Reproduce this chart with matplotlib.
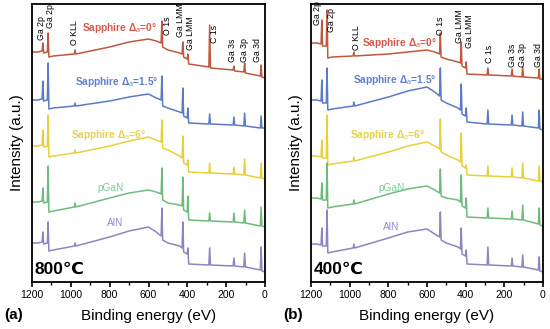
import numpy as np
import matplotlib
matplotlib.use('Agg')
import matplotlib.pyplot as plt
from matplotlib.ticker import MultipleLocator

plt.rcParams['font.family'] = ['Liberation Sans', 'DejaVu Sans']
plt.rcParams['mathtext.fontset'] = 'custom'
plt.rcParams['mathtext.rm'] = 'Liberation Sans'
plt.rcParams['mathtext.it'] = 'Liberation Sans:italic'

# binding energy grid for the background (eV) and the peak positions
grid_be = [1200, 1170, 1148, 1140, 1121, 1113, 1090, 982, 974, 800, 700, 600,
           560, 535, 527, 500, 440, 427, 419, 401, 393, 289, 281, 164, 156,
           109, 101, 24, 16, 0]
peak_be = [1144, 1117, 978, 531, 423, 397, 285, 160, 105, 20]

series_names = ['Sapphire Δ$_{a}$=0°', 'Sapphire Δ$_{a}$=1.5°',
                'Sapphire Δ$_{a}$=6°', 'pGaN', 'AlN']

# panel (a), 800 C : background at grid_be, peak tops at peak_be (stacked, a.u.)
bg_800 = [
    [230, 230, 231, 229, 230, 225, 226, 228, 228, 235, 240, 243, 241, 239, 235,
     232, 229, 228, 225, 223, 218, 215, 214, 212, 211, 210, 209, 206, 205, 204],
    [182, 182, 183, 181, 182, 173, 174, 176, 176, 181, 185, 188, 184, 182, 176,
     174, 170, 169, 166, 164, 159, 158, 158, 157, 157, 156, 156, 154, 154, 154],
    [136, 136, 137, 135, 136, 125, 126, 129, 129, 136, 141, 145, 142, 140, 134,
     132, 126, 124, 119, 117, 110, 109, 109, 108, 108, 107, 107, 104, 104, 103],
    [80, 80, 81, 79, 80, 70, 71, 75, 75, 84, 89, 92, 90, 88, 82,
     79, 77, 76, 72, 70, 62, 61, 61, 60, 60, 59, 59, 56, 56, 55],
    [39, 39, 40, 38, 39, 31, 32, 36, 36, 45, 51, 55, 50, 46, 42,
     39, 36, 34, 30, 28, 18, 17, 17, 16, 16, 15, 15, 12, 11, 10],
]
pk_800 = [
    [239, 249, 232, 261, 240, 228, 257, 216, 219, 217],
    [201, 219, 179, 206, 194, 174, 168, 165, 169, 166],
    [152, 167, 132, 162, 146, 122, 119, 115, 123, 119],
    [94, 116, 79, 114, 105, 86, 69, 69, 72, 75],
    [50, 60, 39, 74, 60, 34, 34, 24, 29, 35],
]

# panel (b), 400 C
bg_400 = [
    [239, 239, 238, 236, 236, 224, 225, 226, 226, 228, 230, 232, 230, 228, 225,
     223, 220, 219, 216, 214, 208, 207, 207, 206, 206, 205, 205, 204, 203, 203],
    [182, 182, 181, 179, 179, 172, 173, 176, 176, 185, 191, 195, 190, 186, 182,
     179, 174, 172, 168, 166, 160, 158, 158, 157, 157, 156, 156, 154, 153, 152],
    [126, 126, 125, 124, 124, 117, 118, 121, 121, 130, 136, 140, 136, 133, 130,
     127, 122, 120, 116, 114, 107, 106, 106, 105, 105, 104, 104, 101, 101, 100],
    [84, 84, 83, 82, 82, 74, 75, 78, 78, 88, 93, 96, 92, 89, 86,
     84, 82, 80, 76, 74, 65, 64, 64, 63, 63, 62, 62, 58, 57, 56],
    [38, 38, 37, 36, 36, 29, 30, 34, 34, 44, 50, 53, 48, 45, 42,
     39, 35, 33, 28, 26, 18, 17, 17, 16, 16, 15, 15, 12, 11, 10],
]
pk_400 = [
    [262, 272, 230, 249, 240, 220, 214, 213, 215, 213],
    [202, 214, 180, 214, 198, 174, 172, 167, 170, 172],
    [142, 167, 125, 163, 149, 117, 116, 114, 119, 116],
    [99, 119, 82, 113, 107, 84, 74, 71, 77, 74],
    [54, 72, 38, 70, 54, 32, 35, 24, 27, 25],
]

peak_names = ['Ga 2p', 'Ga 2p', 'O KLL', 'O 1s', 'Ga LMM', 'Ga LMM',
              'C 1s', 'Ga 3s', 'Ga 3p', 'Ga 3d']

line_colors = ['#c0573f', '#5b7bc6', '#e6d03c', '#6fbb7e', '#8a87bf']
text_colors = ['#d9574a', '#5f80d0', '#e5d24e', '#7ccf98', '#8f8fd2']

panels = [
    dict(bg=bg_800, pk=pk_800, temp='800℃', tag='(a)',
         left=32, right=265,
         lab_be=[1150, 1105, 979, 500, 434, 385, 258, 165, 108, 41],
         lab_y=[242, 254, 237, 247, 245, 232, 239, 220, 220, 220],
         ser_be=[747, 762, 808, 793, 773],
         ser_y=[254, 200, 147, 94, 59]),
    dict(bg=bg_400, pk=pk_400, temp='400℃', tag='(b)',
         left=311, right=543,
         lab_be=[1166, 1095, 967, 528, 432, 380, 279, 160, 104, 21],
         lab_y=[257, 250, 232, 247, 239, 234, 219, 215, 215, 215],
         ser_be=[740, 766, 802, 781, 786],
         ser_y=[239, 202, 147, 94, 55]),
]

W, H = 550, 329
fig = plt.figure(figsize=(W / 100, H / 100), dpi=100)

for p in panels:
    ax = fig.add_axes([p['left'] / W, 1 - 282 / H,
                       (p['right'] - p['left']) / W, 278 / H])
    for i in range(5):
        be = np.array(grid_be + peak_be, dtype=float)
        y = np.array(p['bg'][i] + p['pk'][i], dtype=float)
        order = np.argsort(-be, kind='stable')
        ax.plot(be[order], y[order], color=line_colors[i], lw=1.1)
        ax.text(p['ser_be'][i], p['ser_y'][i], series_names[i],
                color=text_colors[i], fontsize=7.3, ha='center', va='center',
                fontweight='bold' if i < 3 else 'normal')
    for name, xb, yb in zip(peak_names, p['lab_be'], p['lab_y']):
        ax.text(xb, yb, name, rotation=90, ha='center', va='bottom',
                fontsize=6.3, color='black')
    ax.text(0.012, 0.045, p['temp'], transform=ax.transAxes, fontsize=12.5,
            fontweight='bold', ha='left', va='center')

    ax.set_xlim(1200, 0)
    ax.set_ylim(0, 278)
    ax.xaxis.set_major_locator(MultipleLocator(200))
    ax.xaxis.set_minor_locator(MultipleLocator(100))
    ax.tick_params(axis='x', which='major', direction='out', length=3.5,
                   width=1.2, labelsize=7.5, pad=2)
    ax.tick_params(axis='x', which='minor', direction='out', length=2,
                   width=1.0)
    ax.set_yticks([])
    for s in ax.spines.values():
        s.set_linewidth(1.3)
    ax.set_xlabel('Binding energy (eV)', fontsize=11, labelpad=7)
    ax.set_ylabel('Intensity (a.u.)', fontsize=11, labelpad=6)
    fig.text((p['left'] - 18) / W, 1 - 315 / H, p['tag'], fontsize=11,
             fontweight='bold', ha='center', va='center')

fig.savefig('out.png', dpi=100)
